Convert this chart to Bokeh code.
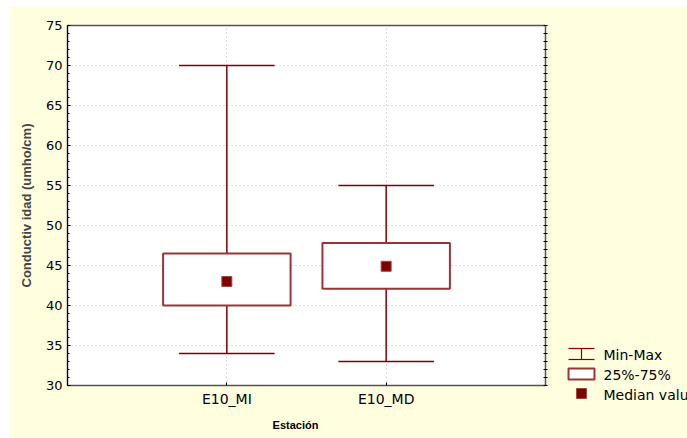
from bokeh.plotting import figure
from bokeh.layouts import row, column
from bokeh.models import Range1d, LinearAxis, SingleIntervalTicker, FixedTicker, Spacer
from bokeh.core.properties import value
from bokeh.embed import file_html
from bokeh.resources import INLINE

# Conductivity per station (umho/cm)
stations = ["E10_MI", "E10_MD"]
min_vals = [34.0, 33.0]
q1_vals = [40.0, 42.1]
median_vals = [43.0, 44.9]
q3_vals = [46.5, 47.8]
max_vals = [70.0, 55.0]

legend_labels = ["Min-Max", "25%-75%", "Median value"]

CREAM = "#FFFFE0"
MAROON = "#800000"
BOX_LINE = "#9a3434"
FRAME = "#555555"
TICK_FONT = "DejaVu Sans"
TITLE_FONT = "Liberation Sans"

PAGE_W, PAGE_H = 687, 438
Y_LO, Y_HI = 30, 75

xs = list(range(1, len(stations) + 1))
CAP_HALF = 0.3
BOX_HALF = 0.4

p = figure(width=PAGE_W - 9, height=PAGE_H - 6,
           x_range=Range1d(0, len(stations) + 1), y_range=Range1d(Y_LO, Y_HI),
           output_backend="svg", toolbar_location=None,
           min_border_left=58, min_border_right=142, min_border_top=19, min_border_bottom=53,
           background_fill_color="white", border_fill_color=CREAM,
           outline_line_color=FRAME, outline_line_width=1.5)

# axes
p.xaxis.ticker = FixedTicker(ticks=xs)
p.xaxis.major_label_overrides = {x: s for x, s in zip(xs, stations)}
p.yaxis.ticker = SingleIntervalTicker(interval=5, num_minor_ticks=5)
for ax in (p.xaxis, p.yaxis):
    ax.major_label_text_font = TICK_FONT
    ax.major_label_text_font_size = "13px"
    ax.major_label_text_color = "black"
    ax.major_tick_in = 3
    ax.major_tick_out = 0
    ax.minor_tick_in = 2
    ax.minor_tick_out = 0
    ax.axis_line_color = "black"
    ax.major_tick_line_color = "black"
    ax.minor_tick_line_color = "black"
p.xaxis.major_label_text_font_size = "14px"
p.xaxis.minor_tick_line_color = None
p.xaxis.axis_line_color = FRAME
p.xaxis.major_label_standoff = 5
p.yaxis.major_label_standoff = 5

p.yaxis.axis_label = "Conductiv idad (umho/cm)"
p.yaxis.axis_label_text_font = TITLE_FONT
p.yaxis.axis_label_text_font_style = "bold"
p.yaxis.axis_label_text_font_size = "13px"
p.yaxis.axis_label_standoff = 9

# right edge: unit ticks crossing the frame, no labels
right_ax = LinearAxis(ticker=FixedTicker(ticks=[], minor_ticks=list(range(Y_LO, Y_HI + 1))),
                      major_label_standoff=0,
                      major_tick_in=2, major_tick_out=2, minor_tick_in=2, minor_tick_out=2,
                      axis_line_color=FRAME, major_tick_line_color="black",
                      minor_tick_line_color="black")
p.add_layout(right_ax, "right")

# grid
for g in (p.xgrid, p.ygrid):
    g.grid_line_color = "#b8b8b8"
    g.grid_line_dash = "1 3"
    g.grid_line_width = 1

# whiskers
p.segment(x0=xs, y0=min_vals, x1=xs, y1=max_vals, line_color=MAROON, line_width=1.5)
p.segment(x0=[x - CAP_HALF for x in xs], y0=max_vals, x1=[x + CAP_HALF for x in xs], y1=max_vals,
          line_color=MAROON, line_width=1.5)
p.segment(x0=[x - CAP_HALF for x in xs], y0=min_vals, x1=[x + CAP_HALF for x in xs], y1=min_vals,
          line_color=MAROON, line_width=1.5)

# interquartile boxes
p.quad(left=[x - BOX_HALF for x in xs], right=[x + BOX_HALF for x in xs],
       bottom=q1_vals, top=q3_vals, fill_color="white", line_color=BOX_LINE, line_width=2)

# medians
p.scatter(xs, median_vals, marker="square", size=10, fill_color=MAROON,
          line_color="#a04848", line_width=1)

main = column(Spacer(height=6), row(Spacer(width=9), p))

# transparent overlay in page pixels for the x title and the legend
ov = figure(width=PAGE_W, height=PAGE_H,
            x_range=Range1d(0, PAGE_W), y_range=Range1d(PAGE_H, 0),
            output_backend="svg", toolbar_location=None,
            x_axis_location=None, y_axis_location=None,
            min_border=0, min_border_left=0, min_border_right=0,
            min_border_top=0, min_border_bottom=0,
            background_fill_alpha=0, border_fill_alpha=0, outline_line_color=None,
            styles={"position": "absolute", "left": "0px", "top": "0px"})
ov.xgrid.visible = False
ov.ygrid.visible = False

ov.text(x=[295], y=[424], text=["Estación"], text_font=value(TITLE_FONT),
        text_font_style="bold", text_font_size="11px", text_color="black",
        text_align="center", text_baseline="middle")

key_l, key_r, key_c = 568, 594, 581
ov.segment(x0=[key_l, key_l, key_c], y0=[348, 359, 348],
           x1=[key_r, key_r, key_c], y1=[348, 359, 359], line_color=MAROON, line_width=1.2)
ov.quad(left=[key_l], right=[key_r], top=[368], bottom=[379],
        fill_color="white", line_color=BOX_LINE, line_width=2)
ov.scatter([key_c], [393], marker="square", size=10, fill_color=MAROON,
           line_color="#a04848", line_width=1)
ov.text(x=[603, 603, 603], y=[354, 374, 394], text=legend_labels,
        text_font=value(TICK_FONT), text_font_size="14px", text_color="black",
        text_baseline="middle", text_align="left")

open("out.html", "w").write(file_html([main, ov], INLINE))
